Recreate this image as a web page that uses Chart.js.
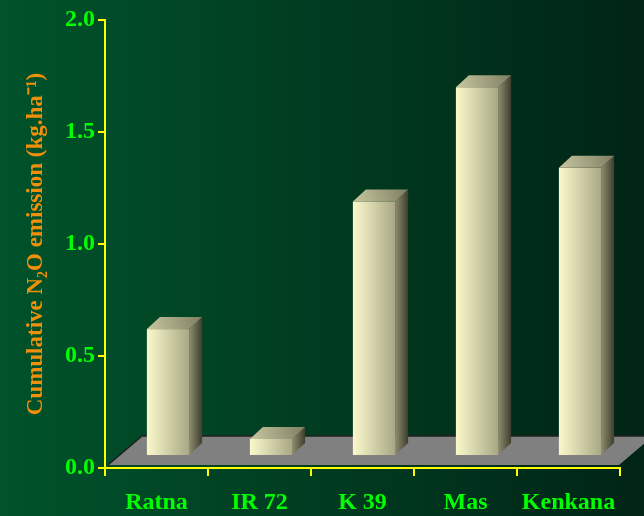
<!DOCTYPE html>
<html>
<head>
<meta charset="utf-8">
<script src="https://cdn.jsdelivr.net/npm/chart.js@4.4.1/dist/chart.umd.min.js"></script>
<style>
  html, body { margin: 0; padding: 0; background: #003d22; }
  canvas { display: block; }
</style>
</head>
<body>
<canvas id="n2oChart" width="644" height="516"></canvas>
<script>
const categories = ["Ratna", "IR 72", "K 39", "Mas", "Kenkana"];
const emission = [0.62, 0.13, 1.19, 1.70, 1.34];
const yTicks = [0, 0.5, 1.0, 1.5, 2.0];

const DEPTH_X = 13, DEPTH_Y = -12, SHIFT = 11.5;

const backdrop = {
  id: "backdrop",
  beforeDraw(chart) {
    const c = chart.ctx;
    const g = c.createLinearGradient(0, 0, chart.width, 0);
    g.addColorStop(0, "#00532b");
    g.addColorStop(1, "#002416");
    c.save();
    c.fillStyle = g;
    c.fillRect(0, 0, chart.width, chart.height);
    c.restore();
  }
};

const bars3d = {
  id: "bars3d",
  beforeDatasetsDraw(chart) {
    const c = chart.ctx, a = chart.chartArea;
    const y0 = chart.scales.y.getPixelForValue(0) - 3;
    // grey floor
    c.save();
    c.beginPath();
    c.moveTo(a.left + 3, y0);
    c.lineTo(a.right - 1, y0);
    c.lineTo(a.right + 33, y0 - 29);
    c.lineTo(a.left + 37, y0 - 29);
    c.closePath();
    c.fillStyle = "#808080";
    c.fill();
    c.beginPath();
    c.moveTo(a.left + 3, y0);
    c.lineTo(a.left + 37, y0 - 29);
    c.lineTo(a.right + 33, y0 - 29);
    c.strokeStyle = "#202020";
    c.lineWidth = 1.5;
    c.stroke();
    c.restore();
  },
  afterDatasetsDraw(chart) {
    const c = chart.ctx;
    chart.getDatasetMeta(0).data.forEach(bar => {
      const p = bar.getProps(["x", "y", "base", "width"], true);
      const l = p.x - p.width / 2 + SHIFT, r = p.x + p.width / 2 + SHIFT;
      const t = p.y, b = p.base;
      c.save();
      // front
      let g = c.createLinearGradient(l, 0, r, 0);
      g.addColorStop(0, "#fbf9cb");
      g.addColorStop(1, "#a9a886");
      c.fillStyle = g;
      c.fillRect(l, t, r - l, b - t);
      // side
      g = c.createLinearGradient(r, 0, r + DEPTH_X, 0);
      g.addColorStop(0, "#8f8e70");
      g.addColorStop(1, "#3e3e2e");
      c.fillStyle = g;
      c.beginPath();
      c.moveTo(r, t);
      c.lineTo(r + DEPTH_X, t + DEPTH_Y);
      c.lineTo(r + DEPTH_X, b + DEPTH_Y);
      c.lineTo(r, b);
      c.closePath();
      c.fill();
      // top
      g = c.createLinearGradient(l, t, r + DEPTH_X, t + DEPTH_Y);
      g.addColorStop(0, "#c8c7a0");
      g.addColorStop(1, "#7f7e62");
      c.fillStyle = g;
      c.beginPath();
      c.moveTo(l, t);
      c.lineTo(r, t);
      c.lineTo(r + DEPTH_X, t + DEPTH_Y);
      c.lineTo(l + DEPTH_X, t + DEPTH_Y);
      c.closePath();
      c.fill();
      c.restore();
    });
  }
};

new Chart(document.getElementById("n2oChart"), {
  type: "bar",
  data: {
    labels: categories,
    datasets: [{
      data: emission,
      base: 0.058,
      backgroundColor: "rgba(0,0,0,0)",
      borderWidth: 0,
      barPercentage: 0.41,
      categoryPercentage: 1
    }]
  },
  options: {
    responsive: false,
    animation: false,
    layout: { padding: { top: 20, right: 24, left: 0, bottom: 0 } },
    plugins: { legend: { display: false }, tooltip: { enabled: false } },
    scales: {
      x: {
        afterFit(s) { s.height = 48; },
        border: { color: "#ffff00", width: 2 },
        grid: { offset: true, drawOnChartArea: false, color: "#ffff00", lineWidth: 2, tickLength: 8 },
        ticks: {
          color: "#00ff00",
          padding: 12,
          font: { family: "Liberation Serif", size: 24, weight: "bold" }
        }
      },
      y: {
        min: 0,
        max: 2,
        afterFit(s) { s.width = 105; },
        afterBuildTicks(s) { s.ticks = yTicks.map(v => ({ value: v })); },
        border: { color: "#ffff00", width: 2 },
        grid: { drawOnChartArea: false, color: "#ffff00", lineWidth: 2, tickLength: 7 },
        ticks: {
          color: "#00ff00",
          padding: 3,
          callback: v => v.toFixed(1),
          font: { family: "Liberation Serif", size: 24, weight: "bold" }
        },
        title: {
          display: true,
          text: "Cumulative N\u2082O emission (kg.ha\u207B\u00B9)",
          color: "#f0900a",
          padding: { top: 22, bottom: 0 },
          font: { family: "Liberation Serif", size: 23, weight: "bold" }
        }
      }
    }
  },
  plugins: [backdrop, bars3d]
});
</script>
</body>
</html>
